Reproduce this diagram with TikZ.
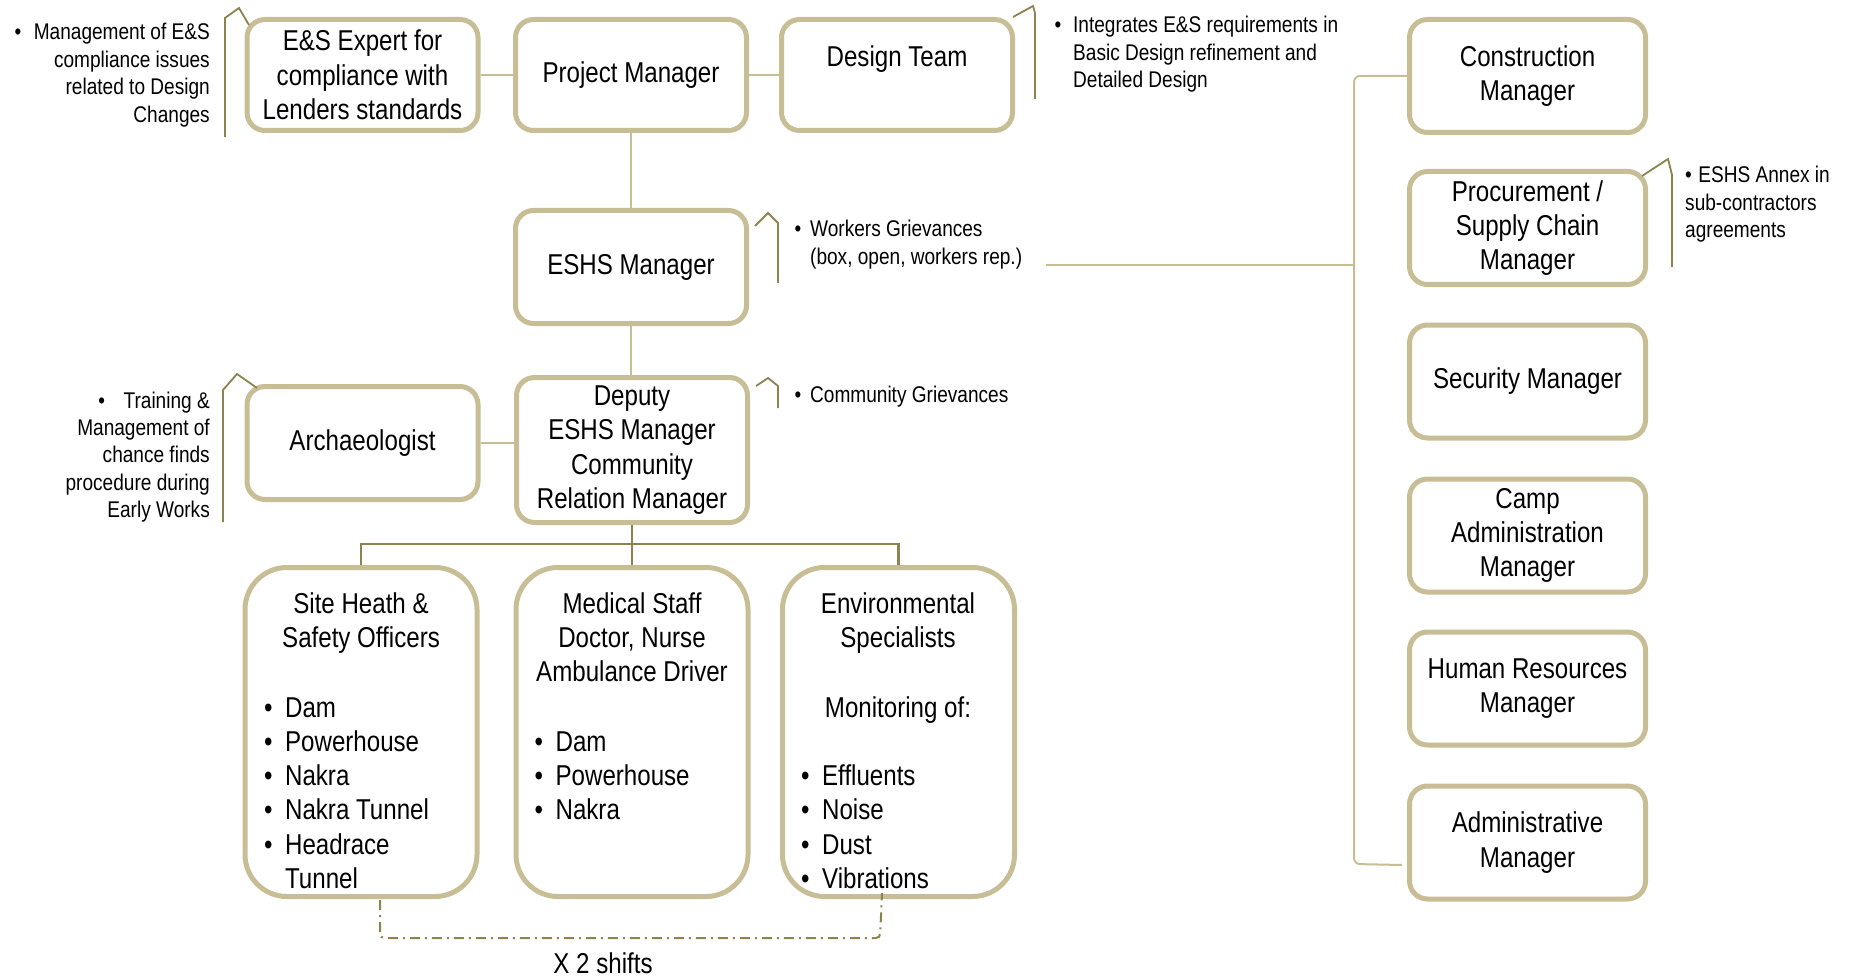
\documentclass[tikz,border=0pt]{standalone}
\usepackage{fontspec}
\setmainfont{Liberation Sans}[FakeStretch=0.84]
\definecolor{boxc}{RGB}{199,190,150}
\definecolor{olivec}{RGB}{140,131,78}
\newcommand\boxfont{\fontsize{28.7}{34.3}\selectfont}
\newcommand\annfont{\fontsize{22.7}{27.4}\selectfont}
\newcommand\mkctab[1]{\begin{tabular}[t]{@{}c@{}}#1\end{tabular}}
\newcommand\mkrtab[1]{\begin{tabular}[t]{@{}r@{}}#1\end{tabular}}
\newcommand\mkltab[1]{\begin{tabular}[t]{@{}l@{}}#1\end{tabular}}
\newcommand\mkbtab[2]{\begin{tabular}[t]{@{}l@{\hspace{#1}}l@{}}#2\end{tabular}}
\tikzset{
  box/.style={draw=boxc, line width=5pt, rounded corners=18pt, fill=white,
    minimum width=231pt, minimum height=111pt, inner sep=0pt, font=\boxfont, align=center},
  rbox/.style={box, minimum width=236pt, minimum height=113pt},
  bigbox/.style={box, rounded corners=42pt, minimum width=232pt, minimum height=329pt},
  btxt/.style={font=\boxfont, inner sep=0pt},
  ann/.style={font=\annfont, inner sep=0pt},
  conn/.style={draw=boxc, line width=2pt},
  dconn/.style={draw=olivec, line width=2.5pt},
  callout/.style={draw=olivec, line width=1.8pt, line join=miter},
  shiftline/.style={draw=olivec, line width=2pt, dash pattern=on 10pt off 5pt on 2pt off 5pt, rounded corners=4pt},
}
\begin{document}
\begin{tikzpicture}[x=1pt,y=-1pt]
\useasboundingbox (0,0) rectangle (1849,976);
\fill[white] (0,0) rectangle (1849,976);

% top row
\node[box] (esexp) at (362.5,75) {E\&S Expert for\\compliance with\\Lenders standards};
\node[box] (pm) at (631,75) {Project Manager};
\node[box] (dt) at (897,75) {};
\node[btxt, anchor=base] (dtt) at (897,67) {Design Team};

% middle
\node[box, minimum height=113pt] (eshs) at (631,267) {ESHS Manager};
\node[box, minimum height=113pt] (arch) at (362.5,443) {Archaeologist};
\node[box, minimum height=145pt] (dep) at (632,450) {Deputy\\ESHS Manager\\Community\\Relation Manager};

% bottom boxes
\node[bigbox] (site) at (361,732) {};
\node[bigbox] (med) at (632,732) {};
\node[bigbox] (env) at (898.5,732) {};
\node[btxt, anchor=base] (sitet) at (361,613) {\mkctab{Site Heath \&\\Safety Officers}};
\node[btxt, anchor=base west] (sitel) at (264,717) {\mkbtab{12.5pt}{\textbullet&Dam\\\textbullet&Powerhouse\\\textbullet&Nakra\\\textbullet&Nakra Tunnel\\\textbullet&Headrace\\&Tunnel}};
\node[btxt, anchor=base] (medt) at (632,613) {\mkctab{Medical Staff\\Doctor, Nurse\\Ambulance Driver}};
\node[btxt, anchor=base west] (medl) at (534.5,751) {\mkbtab{12.5pt}{\textbullet&Dam\\\textbullet&Powerhouse\\\textbullet&Nakra}};
\node[btxt, anchor=base] (envt) at (898,613) {\mkctab{Environmental\\Specialists}};
\node[btxt, anchor=base] (envm) at (898,717) {Monitoring of:};
\node[btxt, anchor=base west] (envl) at (801,785.5) {\mkbtab{12.5pt}{\textbullet&Effluents\\\textbullet&Noise\\\textbullet&Dust\\\textbullet&Vibrations}};

% right column
\node[rbox] (cm) at (1527.5,76) {Construction\\Manager};
\node[rbox] (pcm) at (1527.5,228) {Procurement /\\Supply Chain\\Manager};
\node[rbox] (sm) at (1527.5,381.5) {Security Manager};
\node[rbox] (cam) at (1527.5,535.5) {Camp\\Administration\\Manager};
\node[rbox] (hrm) at (1527.5,688.5) {Human Resources\\Manager};
\node[rbox] (am) at (1527.5,842.5) {Administrative\\Manager};

% annotations
\node[ann, anchor=base east] (esann) at (210,40) {\mkrtab{\textbullet\hspace{12.5pt}Management of E\&S\\compliance issues\\related to Design\\Changes}};
\node[ann, anchor=base west] (dtann) at (1054.5,33) {\mkbtab{11.8pt}{\textbullet&Integrates E\&S requirements in\\&Basic Design refinement and\\&Detailed Design}};
\node[ann, anchor=base west] (eshsann) at (794.5,237) {\mkbtab{8.8pt}{\textbullet&Workers Grievances\\&(box, open, workers rep.)}};
\node[ann, anchor=base west] (depann) at (794.5,402) {\mkbtab{8.8pt}{\textbullet&Community Grievances}};
\node[ann, anchor=base east] (archann) at (210,408) {\mkrtab{\textbullet\hspace{18.5pt}Training \&\\Management of\\chance finds\\procedure during\\Early Works}};
\node[ann, anchor=base west] (pcann) at (1685,183) {\mkltab{\textbullet\hspace{6.5pt}ESHS Annex in\\sub-contractors\\agreements}};

% callout brackets
\draw[callout] (225,137) -- (225,18) -- (239,8) -- (249,25);
\draw[callout] (1013,17) -- (1033,6) -- (1035,13) -- (1035,99);
\draw[callout] (755,226) -- (768,213) -- (778,223) -- (778,283);
\draw[callout] (756,386) -- (768,378) -- (778,386) -- (778,408);
\draw[callout] (223,522) -- (223,390) -- (237,374) -- (257,388);
\draw[callout] (1642,176) -- (1668,159) -- (1672,175) -- (1672,267);

% connectors
\draw[conn] (esexp) -- (pm);
\draw[conn] (pm) -- (dt);
\draw[conn] (pm) -- (eshs);
\draw[conn] (eshs) -- (eshs |- dep.north);
\draw[conn] (arch.east) -- (arch.east -| dep.west);
\coordinate (bus) at (632,544);
\draw[dconn] (dep.south) -- (bus);
\draw[dconn] (site.north) |- (bus) -| (env.north);
\draw[dconn] (bus) -- (med.north);

% right bracket
\coordinate (brt) at (1354,76);
\coordinate (brb) at (1354,864);
\coordinate (bre) at (1402,865);
\draw[conn, rounded corners=6pt] (cm.west) -- (brt) -- (brb) -- (bre);
\coordinate (gl) at (1046,265);
\draw[conn] (gl) -- (gl -| brt);

% shifts
\coordinate (sh1) at (380,900);
\coordinate (sh2) at (380,938);
\coordinate (sh3) at (880,938);
\coordinate (sh4) at (882,893);
\draw[shiftline] (sh1) -- (sh2) -- (sh3) -- (sh4);
\node[btxt, anchor=base] (shifts) at (603,973.5) {X 2 shifts};
\end{tikzpicture}
\end{document}
